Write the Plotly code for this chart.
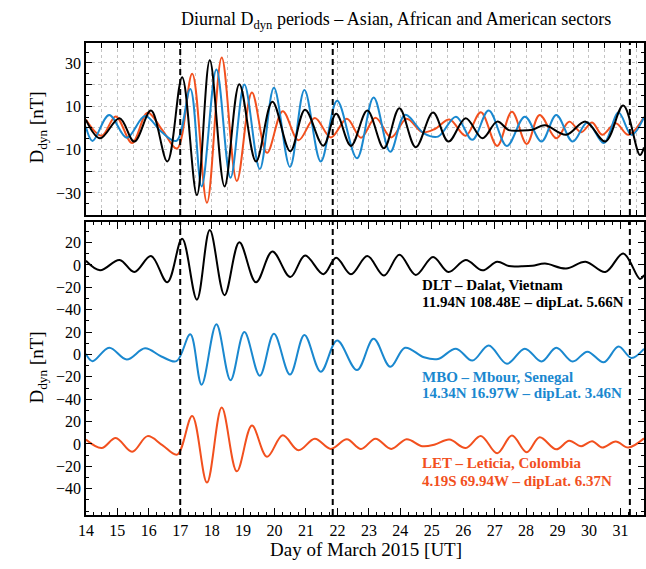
import plotly.graph_objects as go

# ---------------- data ----------------
t_dlt = [14.0, 14.45, 15.07, 15.54, 16.07, 16.59, 17.06, 17.53, 17.94, 18.41, 18.88,
         19.41, 19.93, 20.50, 20.97, 21.55, 21.96, 22.43, 22.95, 23.48, 23.97, 24.49,
         25.04, 25.53, 26.08, 26.61, 27.08, 27.45, 27.85, 28.2, 28.6, 29.27, 29.89,
         30.52, 31.09, 31.62, 31.75]
v_dlt = [3.7, -4.8, 4.5, -6.3, 8.0, -15.5, 23.4, -31.0, 31.2, -27.0, 20.2,
         -15.5, 12.1, -10.8, 8.4, -8.2, 6.5, -8.3, 8.0, -9.4, 9.1, -8.9,
         7.1, -6.3, 4.5, -4.8, 2.9, -1.0, -1.2, -0.8, 1.2, -3.2, 2.9,
         -6.3, 10.3, -12.5, -9.0]

t_mbo = [14.0, 14.21, 14.74, 15.3, 15.88, 16.4, 16.88, 17.32, 17.68, 18.15, 18.6,
         19.04, 19.53, 19.98, 20.49, 20.95, 21.47, 21.99, 22.62, 23.15, 23.68, 24.15,
         24.75, 25.2, 25.77, 26.29, 26.81, 27.39, 27.96, 28.49, 28.96, 29.48, 29.95,
         30.47, 30.94, 31.35, 31.75]
v_mbo = [0.5, -6.0, 6.0, -4.5, 5.5, -1.8, -6.0, 18.0, -27.0, 27.0, -23.0,
         20.0, -19.0, 18.5, -18.0, 17.5, -15.5, 12.5, -14.0, 14.0, -11.0, 6.0,
         -2.5, -4.0, 5.2, -5.5, 8.0, -8.3, 5.2, -6.3, 6.0, -6.3, 2.5,
         -7.0, 7.1, -3.2, 5.0]

t_let = [14.0, 14.5, 14.95, 15.47, 15.96, 16.43, 16.9, 17.38, 17.85, 18.32, 18.8,
         19.28, 19.76, 20.26, 20.76, 21.28, 21.79, 22.3, 22.75, 23.21, 23.71, 24.2,
         24.7, 25.1, 25.56, 26.08, 26.56, 27.08, 27.55, 28.02, 28.43, 28.96, 29.37,
         29.75, 30.1, 30.42, 30.85, 31.25, 31.75]
v_let = [3.9, -3.6, 5.3, -7.0, 7.0, -1.0, -9.5, 25.0, -34.5, 32.5, -24.5,
         16.4, -11.5, 7.7, -5.7, 4.6, -4.4, 4.2, -4.5, 4.7, -4.4, 4.2,
         -2.0, -0.5, 3.9, -3.6, 7.2, -8.3, 7.5, -7.4, 6.0, -4.8, 2.9,
         -2.0, 2.5, -3.2, 2.2, -3.2, 5.0]

event_days = [17.0, 21.85, 31.3]

stations = [
    ("LET", t_let, v_let, "#f2501e", 0,
     "LET – Leticia, Colombia", "4.19S 69.94W – dipLat. 6.37N"),
    ("MBO", t_mbo, v_mbo, "#1a88cf", 80,
     "MBO – Mbour, Senegal", "14.34N 16.97W – dipLat. 3.46N"),
    ("DLT", t_dlt, v_dlt, "#000000", 160,
     "DLT – Dalat, Vietnam", "11.94N 108.48E – dipLat. 5.66N"),
]
sub_ticks = [-40, -20, 0, 20]

# ---------------- figure ----------------
W, H = 646, 569
FONT = "Liberation Serif"
fig = go.Figure()

for name, t, v, col, off, l1, l2 in stations:
    fig.add_trace(go.Scatter(x=t, y=v, mode="lines", line=dict(color=col, width=2, shape="spline", smoothing=1.0),
                             xaxis="x", yaxis="y", showlegend=False))
    fig.add_trace(go.Scatter(x=t, y=[val + off for val in v], mode="lines",
                             line=dict(color=col, width=2, shape="spline", smoothing=1.0),
                             xaxis="x2", yaxis="y2", showlegend=False))

def px_x(p):
    return p / W

def px_y(p):
    return 1 - p / H

top_dom = [px_y(215), px_y(43)]
bot_dom = [px_y(515), px_y(222)]
x_dom = [px_x(79), px_x(645)]

axis_common = dict(showline=True, linecolor="black", linewidth=1.5, mirror="ticks",
                   ticks="inside", tickcolor="black", zeroline=False,
                   tickfont=dict(family=FONT, size=16, color="black"))

y_top_vals = [-30, -20, -10, 0, 10, 20, 30]
y_top_text = ["−30", " ", "−10", " ", "10", " ", "30"]

bt_vals, bt_text = [], []
for _, _, _, _, off, _, _ in stations:
    for s in sub_ticks:
        bt_vals.append(s + off)
        bt_text.append(str(s).replace("-", "−"))

fig.update_layout(
    width=W, height=H, margin=dict(l=0, r=0, t=0, b=0),
    paper_bgcolor="white", plot_bgcolor="white",
    xaxis=dict(domain=x_dom, range=[14, 31.75], anchor="y", showticklabels=False,
               tickmode="linear", tick0=14, dtick=0.5, ticklen=5,
               showgrid=True, gridcolor="#c4c4c4", griddash="dot", gridwidth=1, **axis_common),
    yaxis=dict(domain=top_dom, range=[-40.2, 39.2], anchor="x",
               tickmode="array", tickvals=y_top_vals, ticktext=y_top_text, ticklen=6,
               minor=dict(tickmode="linear", tick0=0, dtick=5, ticklen=3, ticks="inside", tickcolor="black"),
               showgrid=True, gridcolor="#c4c4c4", griddash="dot", gridwidth=1, **axis_common),
    xaxis2=dict(domain=x_dom, range=[14, 31.75], anchor="y2",
                tickmode="linear", tick0=14, dtick=1, ticklen=7,
                minor=dict(tickmode="linear", tick0=14, dtick=0.25, ticklen=3, ticks="inside", tickcolor="black"),
                showgrid=False, **axis_common),
    yaxis2=dict(domain=bot_dom, range=[-63.5, 198.4], anchor="x2",
                tickmode="array", tickvals=bt_vals, ticktext=bt_text, ticklen=6,
                minor=dict(tickmode="linear", tick0=0, dtick=10, ticklen=3, ticks="inside", tickcolor="black"),
                showgrid=False, **axis_common),
)

shapes = []
for d in event_days:
    for xr, yr in (("x", "y domain"), ("x2", "y2 domain")):
        shapes.append(dict(type="line", xref=xr, yref=yr, x0=d, x1=d, y0=0, y1=1,
                           line=dict(color="black", width=2, dash="6px,4px")))
fig.update_layout(shapes=shapes)

ann = []
ann.append(dict(text="Diurnal D<sub>dyn</sub> periods – Asian, African and American sectors",
                x=px_x(393), y=px_y(21), xref="paper", yref="paper", xanchor="center", yanchor="middle",
                showarrow=False, font=dict(family=FONT, size=18, color="black")))
for yc in (128, 368):
    ann.append(dict(text="D<sub>dyn</sub> [nT]", x=px_x(30), y=px_y(yc), xref="paper", yref="paper",
                    xanchor="center", yanchor="middle", textangle=-90, showarrow=False,
                    font=dict(family=FONT, size=19, color="black")))
ann.append(dict(text="Day of March 2015 [UT]", x=px_x(363), y=px_y(549), xref="paper", yref="paper",
                xanchor="center", yanchor="middle", showarrow=False,
                font=dict(family=FONT, size=19, color="black")))

label_y = {"DLT": (285, 302), "MBO": (377, 393), "LET": (463, 481)}
for name, t, v, col, off, l1, l2 in stations:
    y1, y2 = label_y[name]
    for txt, yy in ((l1, y1), (l2, y2)):
        ann.append(dict(text="<b>" + txt + "</b>", x=px_x(418), y=px_y(yy), xref="paper", yref="paper",
                        xanchor="left", yanchor="middle", showarrow=False,
                        font=dict(family=FONT, size=15, color=col)))
fig.update_layout(annotations=ann)

fig.write_html("out.html")
